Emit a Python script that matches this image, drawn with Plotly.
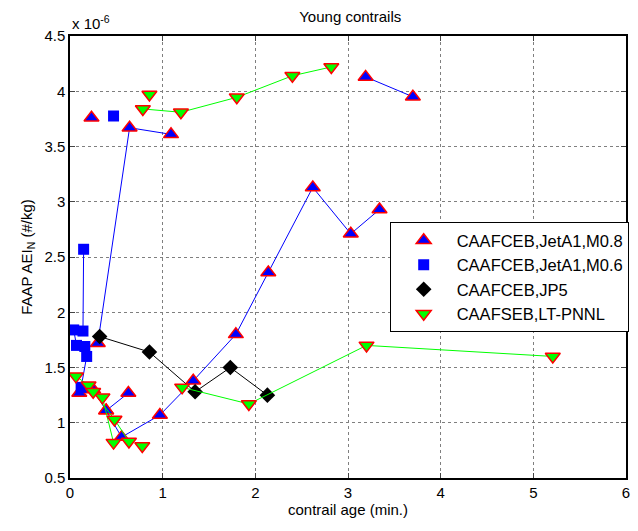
import plotly.graph_objects as go

# ---- data (AEI_N in units of 1e-6 #/kg), None separates line segments ----
m08_age = [0.30, 0.643, 1.09, None, 0.232, None, 3.19, 3.70, None,
           0.10, 0.25, 0.39, 0.63, None,
           0.39, 0.557, 0.97, 1.33, 1.79, 2.14, 2.62, 3.03, 3.34]
m08_aei = [1.72, 3.67, 3.61, None, 3.76, None, 4.13, 3.95, None,
           1.27, 1.30, 1.11, 1.27, None,
           1.11, 0.87, 1.07, 1.38, 1.80, 2.36, 3.13, 2.71, 2.93]

m06_age = [0.147, 0.14, 0.04, 0.07, 0.16, 0.18, 0.12, None, 0.47]
m06_aei = [2.57, 1.83, 1.84, 1.70, 1.69, 1.60, 1.32, None, 3.776]

jp5_age = [0.32, 0.857, 1.35, 1.73, 2.13]
jp5_aei = [1.78, 1.64, 1.28, 1.50, 1.25]

pnnl_age = [0.786, 1.197, 1.80, 2.40, 2.82, None, 0.857, None,
            0.064, 0.20, 0.35, 0.47, None,
            0.25, 0.48, 0.636, None, 0.78, None,
            1.21, 1.93, 3.20, 5.21]
pnnl_aei = [3.84, 3.81, 3.945, 4.14, 4.22, None, 3.97, None,
            1.42, 1.34, 1.23, 0.82, None,
            1.28, 1.03, 0.83, None, 0.79, None,
            1.32, 1.17, 1.70, 1.60]

series_names = ["CAAFCEB,JetA1,M0.8", "CAAFCEB,JetA1,M0.6",
                "CAAFCEB,JP5", "CAAFSEB,LT-PNNL"]

x_ticks = [0, 1, 2, 3, 4, 5, 6]
y_ticks = [0.5, 1, 1.5, 2, 2.5, 3, 3.5, 4, 4.5]
y_tick_labels = ["0.5", "1", "1.5", "2", "2.5", "3", "3.5", "4", "4.5"]

FONT = "Liberation Sans, Arial, sans-serif"

fig = go.Figure()

styles = [
    (m08_age, m08_aei, "#0000ff", dict(symbol="triangle-up", size=13, color="#0000ff",
                                       line=dict(color="#ff0000", width=1.5))),
    (m06_age, m06_aei, "#0000ff", dict(symbol="square", size=11, color="#0000ff",
                                       line=dict(color="#0000ff", width=0))),
    (jp5_age, jp5_aei, "#000000", dict(symbol="diamond", size=12, color="#000000",
                                       line=dict(color="#000000", width=0))),
    (pnnl_age, pnnl_aei, "#00ff00", dict(symbol="triangle-down", size=13, color="#00ff00",
                                         line=dict(color="#ff0000", width=1.5))),
]

for (xs, ys, lc, mk), name in zip(styles, series_names):
    fig.add_trace(go.Scatter(x=xs, y=ys, mode="lines", line=dict(color=lc, width=1),
                             showlegend=False, hoverinfo="skip", connectgaps=False))
    fig.add_trace(go.Scatter(x=xs, y=ys, mode="markers", marker=mk, name=name))

fig.update_layout(
    width=638, height=531,
    margin=dict(l=70, r=8, t=36, b=53),
    paper_bgcolor="white", plot_bgcolor="white",
    font=dict(family=FONT, size=15, color="black"),
    title=dict(text="Young contrails", x=0.549, xanchor="center", y=0.978,
               yanchor="top", font=dict(size=15)),
    legend=dict(x=0.575, y=0.579, xanchor="left", yanchor="top",
                bgcolor="white", bordercolor="black", borderwidth=1,
                font=dict(size=16.5), itemwidth=56, tracegroupgap=0),
    showlegend=True,
)

fig.update_xaxes(range=[0, 6], tickvals=x_ticks, ticks="inside", ticklen=5,
                 showline=True, linecolor="black", linewidth=1.5, mirror="ticks",
                 showgrid=True, gridcolor="#7f7f7f", griddash="dot", gridwidth=1,
                 zeroline=False, tickfont=dict(size=15),
                 title=dict(text="contrail age (min.)", font=dict(size=15), standoff=4))
fig.update_yaxes(range=[0.5, 4.5], tickvals=y_ticks, ticktext=y_tick_labels,
                 ticks="inside", ticklen=5,
                 showline=True, linecolor="black", linewidth=1.5, mirror="ticks",
                 showgrid=True, gridcolor="#7f7f7f", griddash="dot", gridwidth=1,
                 zeroline=False, tickfont=dict(size=15),
                 title=dict(text="FAAP AEI<sub>N</sub> (#/kg)", font=dict(size=15), standoff=8))

fig.add_annotation(text="x 10<sup>-6</sup>", xref="paper", yref="paper", x=0, y=1,
                   xanchor="left", yanchor="bottom", yshift=2, showarrow=False,
                   font=dict(size=15))

fig.write_html("out.html")
